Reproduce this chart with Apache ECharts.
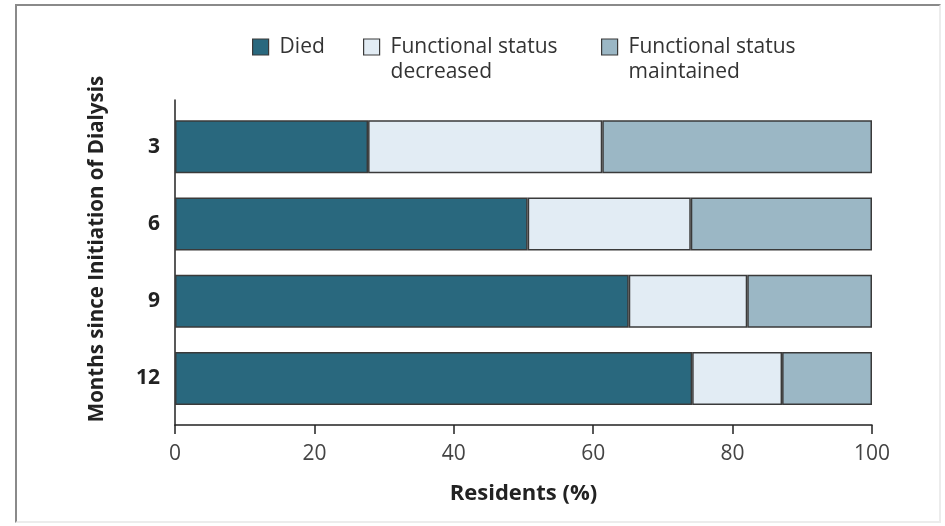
<!DOCTYPE html>
<html><head><meta charset="utf-8">
<script src="https://cdn.jsdelivr.net/npm/echarts@6/dist/echarts.min.js"></script>
<style>
html,body{margin:0;padding:0;background:#fff;}
#c{width:945px;height:526px;position:absolute;left:0;top:0;}
#frame{position:absolute;left:15px;top:4px;width:922px;height:515px;border-left:2px solid #8a8a8a;border-top:2px solid #8a8a8a;border-right:2px solid #ececec;border-bottom:2px solid #ececec;pointer-events:none;}
</style></head>
<body><div id="c"></div><div id="frame"></div>
<script>
const categories = ['3', '6', '9', '12'];
const died = [27.7, 50.6, 65.1, 74.2];
const decreased = [33.6, 23.4, 17.0, 12.9];
const maintained = [38.7, 26.0, 17.9, 12.9];
const xTicks = [0, 20, 40, 60, 80, 100];
const seriesNames = ['Died', 'Functional status\ndecreased', 'Functional status\nmaintained'];

const FONT = 'Open Sans';
const chart = echarts.init(document.getElementById('c'), null, {renderer: 'canvas'});
const border = {borderColor: '#3a3a3a', borderWidth: 1.5};
const colors = ['#29687e', '#e2ecf4', '#9bb7c5'];
const dataArr = [died, decreased, maintained];
const legendLeft = [247, 358, 596];
const LH = 25;

function legendFor(i) {
  const multi = seriesNames[i].indexOf('\n') >= 0;
  return {
    left: legendLeft[i], top: multi ? 47 - 5 - 1.5 * LH : 47 - 5 - 0.5 * LH,
    padding: 5,
    itemWidth: 16, itemHeight: 16,
    icon: 'rect',
    selectedMode: false,
    itemStyle: {borderColor: '#3a3a3a', borderWidth: 1.2},
    formatter: name => (multi ? '{s|}\n' : '') + name.split('\n').map(l => '{s|}' + l).join('\n'),
    textStyle: {fontFamily: FONT, fontSize: 21, color: '#333', lineHeight: LH,
      rich: {s: {width: 6}}},
    data: [seriesNames[i]]
  };
}

chart.setOption({
  animation: false,
  backgroundColor: '#ffffff',
  textStyle: {fontFamily: FONT},
  legend: [legendFor(0), legendFor(1), legendFor(2)],
  grid: [
    {left: 175, right: 73, top: 108, height: 309, containLabel: false},
    {left: 175, right: 73, top: 100, height: 325, containLabel: false}
  ],
  xAxis: [
    {type: 'value', gridIndex: 0, min: 0, max: 100, show: false},
    {type: 'value', gridIndex: 1, min: 0, max: 100, interval: 20,
      axisLine: {show: true, lineStyle: {color: '#222', width: 1.5}},
      axisTick: {show: true, length: 9, inside: false, lineStyle: {color: '#222', width: 1.5}},
      axisLabel: {fontSize: 21, color: '#444', margin: 19, fontFamily: FONT,
        formatter: v => xTicks.includes(v) ? String(v) : ''},
      splitLine: {show: false},
      name: 'Residents (%)', nameLocation: 'middle', nameGap: 58,
      nameTextStyle: {fontSize: 22, fontWeight: 'bold', color: '#222', fontFamily: FONT}
    }
  ],
  yAxis: [
    {type: 'category', gridIndex: 0, data: categories, inverse: true,
      axisLine: {show: false}, axisTick: {show: false},
      axisLabel: {fontSize: 21, fontWeight: 'bold', color: '#222', margin: 15, fontFamily: FONT}
    },
    {type: 'value', gridIndex: 1, min: 0, max: 1,
      axisLine: {show: true, lineStyle: {color: '#222', width: 1.5}},
      axisTick: {show: false}, axisLabel: {show: false}, splitLine: {show: false},
      name: 'Months since Initiation of Dialysis', nameLocation: 'middle', nameGap: 67, nameRotate: 90,
      nameTextStyle: {fontSize: 20.5, fontWeight: 'bold', color: '#222', fontFamily: FONT, padding: [0, 0, 0, 27]}
    }
  ],
  series: seriesNames.map((n, i) => ({
    name: n, type: 'bar', stack: 'all', xAxisIndex: 0, yAxisIndex: 0,
    barWidth: 53,
    itemStyle: Object.assign({color: colors[i]}, border),
    data: dataArr[i]
  }))
});
</script>
</body></html>
